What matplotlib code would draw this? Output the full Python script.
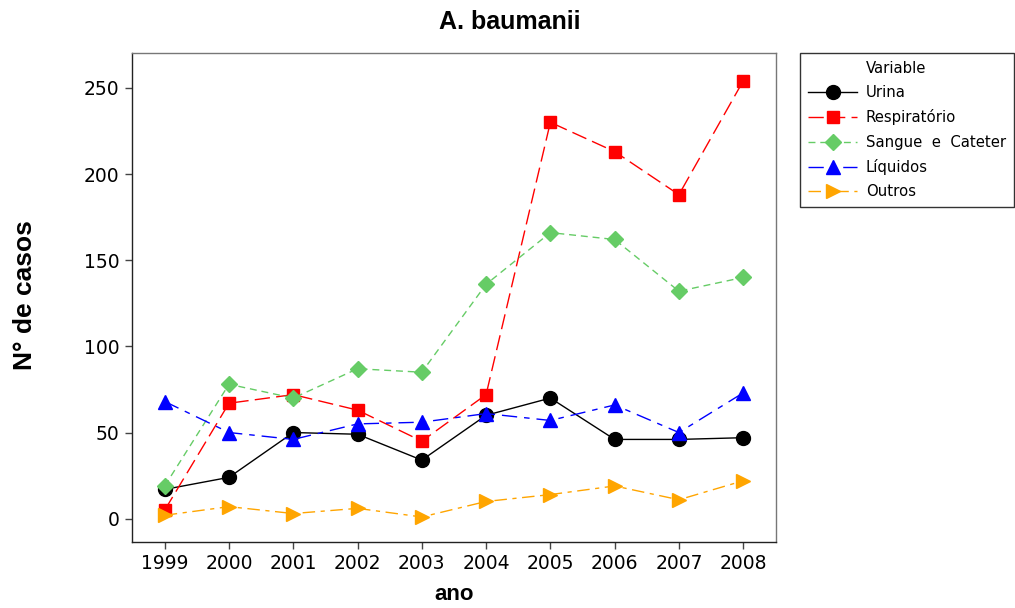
import matplotlib
matplotlib.use("Agg")
import matplotlib.pyplot as plt
from matplotlib.lines import Line2D

years = [1999, 2000, 2001, 2002, 2003, 2004, 2005, 2006, 2007, 2008]
urina = [17, 24, 50, 49, 34, 60, 70, 46, 46, 47]
respiratorio = [5, 67, 72, 63, 45, 72, 230, 213, 188, 254]
sangue_cateter = [19, 78, 70, 87, 85, 136, 166, 162, 132, 140]
liquidos = [68, 50, 46, 55, 56, 61, 57, 66, 50, 73]
outros = [2, 7, 3, 6, 1, 10, 14, 19, 11, 22]
y_ticks = [0, 50, 100, 150, 200, 250]

fig = plt.figure(figsize=(10.15, 6.08), dpi=100)
ax = fig.add_axes([0.130, 0.1086, 0.6345, 0.8042])

series = [
    ("Urina", urina, dict(color="black", linestyle="-", marker="o", markersize=10)),
    ("Respiratório", respiratorio, dict(color="#FF0000", linestyle=(0, (11, 4.5)), marker="s", markersize=9)),
    ("Sangue  e  Cateter", sangue_cateter, dict(color="#66CC66", linestyle=(0, (5, 3.5)), marker="D", markersize=8)),
    ("Líquidos", liquidos, dict(color="#0000FF", linestyle=(0, (11, 5, 4, 5)), marker="^", markersize=10)),
    ("Outros", outros, dict(color="#FFA500", linestyle=(0, (9, 4, 3, 4)), marker=">", markersize=10)),
]

handles = [Line2D([], [], linestyle="none", marker=None, label="Variable")]
for label, vals, style in series:
    h, = ax.plot(years, vals, linewidth=1, label=label, **style)
    handles.append(h)

ax.set_xlim(1998.49, 2008.51)
ax.set_ylim(-13.5, 270.2)
ax.set_xticks(years)
ax.set_yticks(y_ticks)
ax.tick_params(axis="both", direction="out", length=5, width=1, color="#444444",
               labelsize=13.5, pad=4)

for side in ("top", "right"):
    ax.spines[side].set_color("#777777")
for side in ("left", "bottom"):
    ax.spines[side].set_color("#222222")
for sp in ax.spines.values():
    sp.set_linewidth(1)

fig.text(0.502, 0.963, "A. baumanii", ha="center", va="center",
         fontsize=18, fontweight="bold", family="Liberation Sans")
fig.text(0.447, 0.022, "ano", ha="center", va="center",
         fontsize=16, fontweight="bold", family="Liberation Sans")
fig.text(0.025, 0.515, "N° de casos", ha="center", va="center", rotation=90,
         fontsize=19, fontweight="bold", family="Liberation Sans")

leg = fig.legend(handles=handles, loc="upper left", bbox_to_anchor=(0.788, 0.913),
                 bbox_transform=fig.transFigure, borderaxespad=0, fontsize=10.7,
                 fancybox=False, frameon=True, edgecolor="black",
                 handlelength=3.3, handletextpad=0.6, labelspacing=0.62,
                 borderpad=0.55)
leg.get_frame().set_linewidth(1)

fig.savefig("out.png", dpi=100)
